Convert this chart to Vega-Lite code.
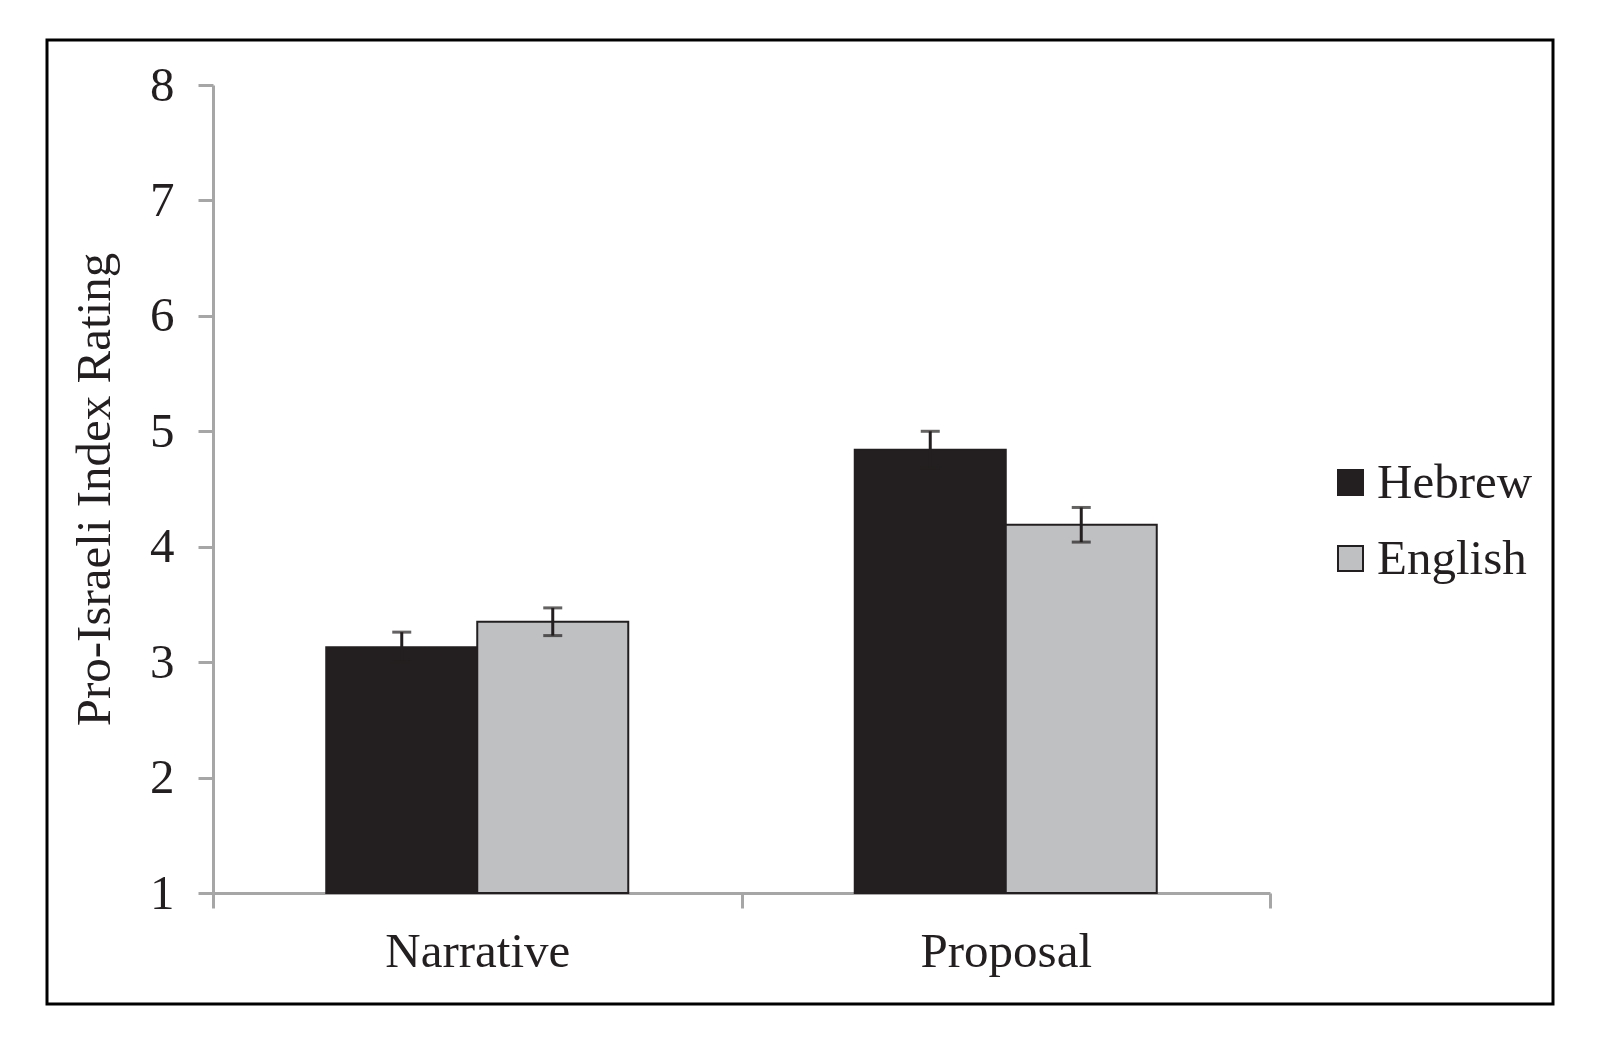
{
  "$schema": "https://vega.github.io/schema/vega-lite/v6.json",
  "width": 1506,
  "height": 964,
  "autosize": "none",
  "padding": {"left": 47, "top": 40, "right": 47, "bottom": 41},
  "background": "white",
  "config": {
    "view": {"stroke": "#000000", "strokeWidth": 3},
    "font": "Liberation Serif",
    "axis": {
      "labelFont": "Liberation Serif",
      "titleFont": "Liberation Serif",
      "labelColor": "#231f20",
      "titleColor": "#231f20",
      "labelFontSize": 49,
      "titleFontSize": 49,
      "titleFontWeight": "normal",
      "labelLimit": 0,
      "titleLimit": 0,
      "domainColor": "#a6a6a6",
      "domainWidth": 3,
      "tickColor": "#a6a6a6",
      "tickWidth": 3,
      "tickSize": 15,
      "grid": false
    },
    "legend": {
      "labelFont": "Liberation Serif",
      "labelFontSize": 49,
      "labelColor": "#231f20",
      "labelLimit": 0
    }
  },
  "data": {
    "values": [
      {"condition": "Narrative", "language": "Hebrew", "mean": 3.13, "lo": 3.0, "hi": 3.26},
      {"condition": "Narrative", "language": "English", "mean": 3.35, "lo": 3.23, "hi": 3.47},
      {"condition": "Proposal", "language": "Hebrew", "mean": 4.84, "lo": 4.68, "hi": 5.0},
      {"condition": "Proposal", "language": "English", "mean": 4.19, "lo": 4.04, "hi": 4.34}
    ]
  },
  "encoding": {
    "x": {
      "field": "condition",
      "type": "nominal",
      "title": null,
      "scale": {"range": [166, 1223], "paddingInner": 0, "paddingOuter": 0},
      "axis": {"offset": -111, "labelAngle": 0, "tickBand": "extent", "labelPadding": 19}
    },
    "xOffset": {
      "field": "language",
      "type": "nominal",
      "sort": ["Hebrew", "English"],
      "scale": {"paddingInner": 0, "paddingOuter": 0.75}
    }
  },
  "layer": [
    {
      "mark": {"type": "bar", "stroke": "#231f20", "strokeWidth": 2},
      "encoding": {
        "y": {
          "field": "mean",
          "type": "quantitative",
          "title": "Pro-Israeli Index Rating",
          "scale": {"domain": [1, 8], "range": [853, 45], "nice": false, "zero": false},
          "axis": {"offset": -166, "values": [1, 2, 3, 4, 5, 6, 7, 8], "format": "d", "labelPadding": 24, "titlePadding": 30}
        },
        "y2": {"datum": 1},
        "color": {
          "field": "language",
          "type": "nominal",
          "sort": ["Hebrew", "English"],
          "scale": {"domain": ["Hebrew", "English"], "range": ["#231f20", "#bfc0c2"]},
          "legend": {
            "title": null,
            "orient": "none",
            "legendX": 1279,
            "legendY": 418,
            "symbolType": "square",
            "symbolSize": 625,
            "symbolStrokeColor": "#231f20",
            "symbolStrokeWidth": 2,
            "symbolOpacity": 1,
            "labelOffset": 2,
            "rowPadding": 26,
            "padding": 0
          }
        }
      }
    },
    {
      "mark": {"type": "rule", "color": "#231f20", "strokeWidth": 3},
      "encoding": {
        "y": {"field": "lo", "type": "quantitative"},
        "y2": {"field": "hi"}
      }
    },
    {
      "mark": {"type": "tick", "color": "#231f20", "size": 19, "thickness": 3},
      "encoding": {
        "y": {"field": "lo", "type": "quantitative"}
      }
    },
    {
      "mark": {"type": "tick", "color": "#231f20", "size": 19, "thickness": 3},
      "encoding": {
        "y": {"field": "hi", "type": "quantitative"}
      }
    }
  ]
}
